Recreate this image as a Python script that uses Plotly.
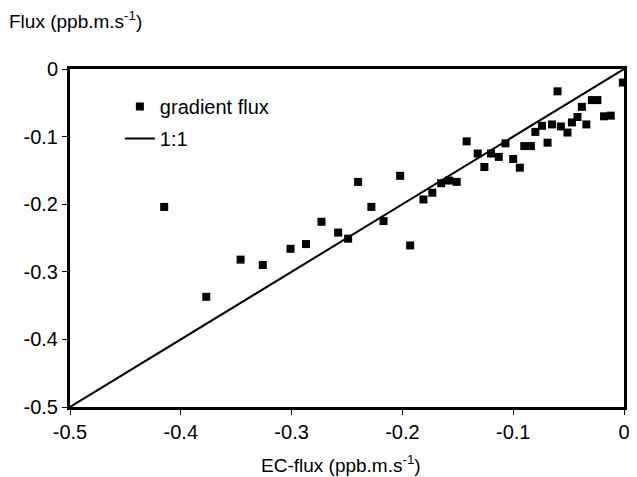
import plotly.graph_objects as go

ec_flux = [-0.415, -0.377, -0.346, -0.326, -0.301, -0.287, -0.273, -0.258, -0.249, -0.240,
           -0.228, -0.217, -0.202, -0.193, -0.181, -0.173, -0.165, -0.158, -0.151, -0.142,
           -0.132, -0.126, -0.120, -0.113, -0.107, -0.100, -0.094, -0.090, -0.084, -0.080,
           -0.074, -0.069, -0.065, -0.060, -0.057, -0.051, -0.047, -0.042, -0.038, -0.034,
           -0.029, -0.024, -0.018, -0.012, -0.001]
gradient_flux = [-0.204, -0.337, -0.282, -0.290, -0.266, -0.259, -0.226, -0.242, -0.251, -0.167,
                 -0.204, -0.225, -0.158, -0.261, -0.193, -0.183, -0.169, -0.165, -0.167, -0.107,
                 -0.125, -0.145, -0.125, -0.130, -0.110, -0.133, -0.146, -0.114, -0.114, -0.093,
                 -0.084, -0.109, -0.082, -0.033, -0.085, -0.094, -0.079, -0.071, -0.056, -0.082,
                 -0.046, -0.046, -0.070, -0.069, -0.020]
line_x = [-0.5, 0]
line_y = [-0.5, 0]
tick_vals = [-0.5, -0.4, -0.3, -0.2, -0.1, 0]
tick_text = ["-0.5", "-0.4", "-0.3", "-0.2", "-0.1", "0"]

FAM = "Liberation Sans, Arial, sans-serif"
tick_font = dict(family=FAM, size=20, color="black")
legend_font = dict(family=FAM, size=20, color="black")
title_font = dict(family=FAM, size=19, color="black")

fig = go.Figure()
fig.add_trace(go.Scatter(x=ec_flux, y=gradient_flux, mode="markers", name="gradient flux",
                         legendgroup="a",
                         marker=dict(symbol="square", size=8, color="black")))
fig.add_trace(go.Scatter(x=line_x, y=line_y, mode="lines", name="1:1",
                         legendgroup="b",
                         line=dict(color="black", width=2)))

axis_common = dict(range=[-0.5, 0], tickvals=tick_vals, ticktext=tick_text,
                   showgrid=False, zeroline=False, showline=True, linecolor="black",
                   linewidth=3, mirror=True, ticks="outside", ticklen=5, tickwidth=1,
                   tickcolor="black", tickfont=tick_font)

fig.update_xaxes(**axis_common)
fig.update_yaxes(**axis_common)

fig.update_layout(
    width=637, height=477,
    margin=dict(l=70, r=7, t=69, b=70),
    paper_bgcolor="white", plot_bgcolor="white",
    font=tick_font,
    showlegend=True,
    legend=dict(x=0.09, y=0.947, xanchor="left", yanchor="top", bgcolor="rgba(0,0,0,0)",
                font=legend_font, traceorder="grouped", tracegroupgap=3, itemwidth=30),
    annotations=[
        dict(text="Flux (ppb.m.s<sup>-1</sup>)", xref="paper", yref="paper",
             x=-0.113, y=1.145, xanchor="left", yanchor="middle", showarrow=False,
             font=title_font),
        dict(text="EC-flux (ppb.m.s<sup>-1</sup>)", xref="paper", yref="paper",
             x=0.49, y=-0.168, xanchor="center", yanchor="middle", showarrow=False,
             font=title_font),
    ],
)

fig.write_html("out.html")
